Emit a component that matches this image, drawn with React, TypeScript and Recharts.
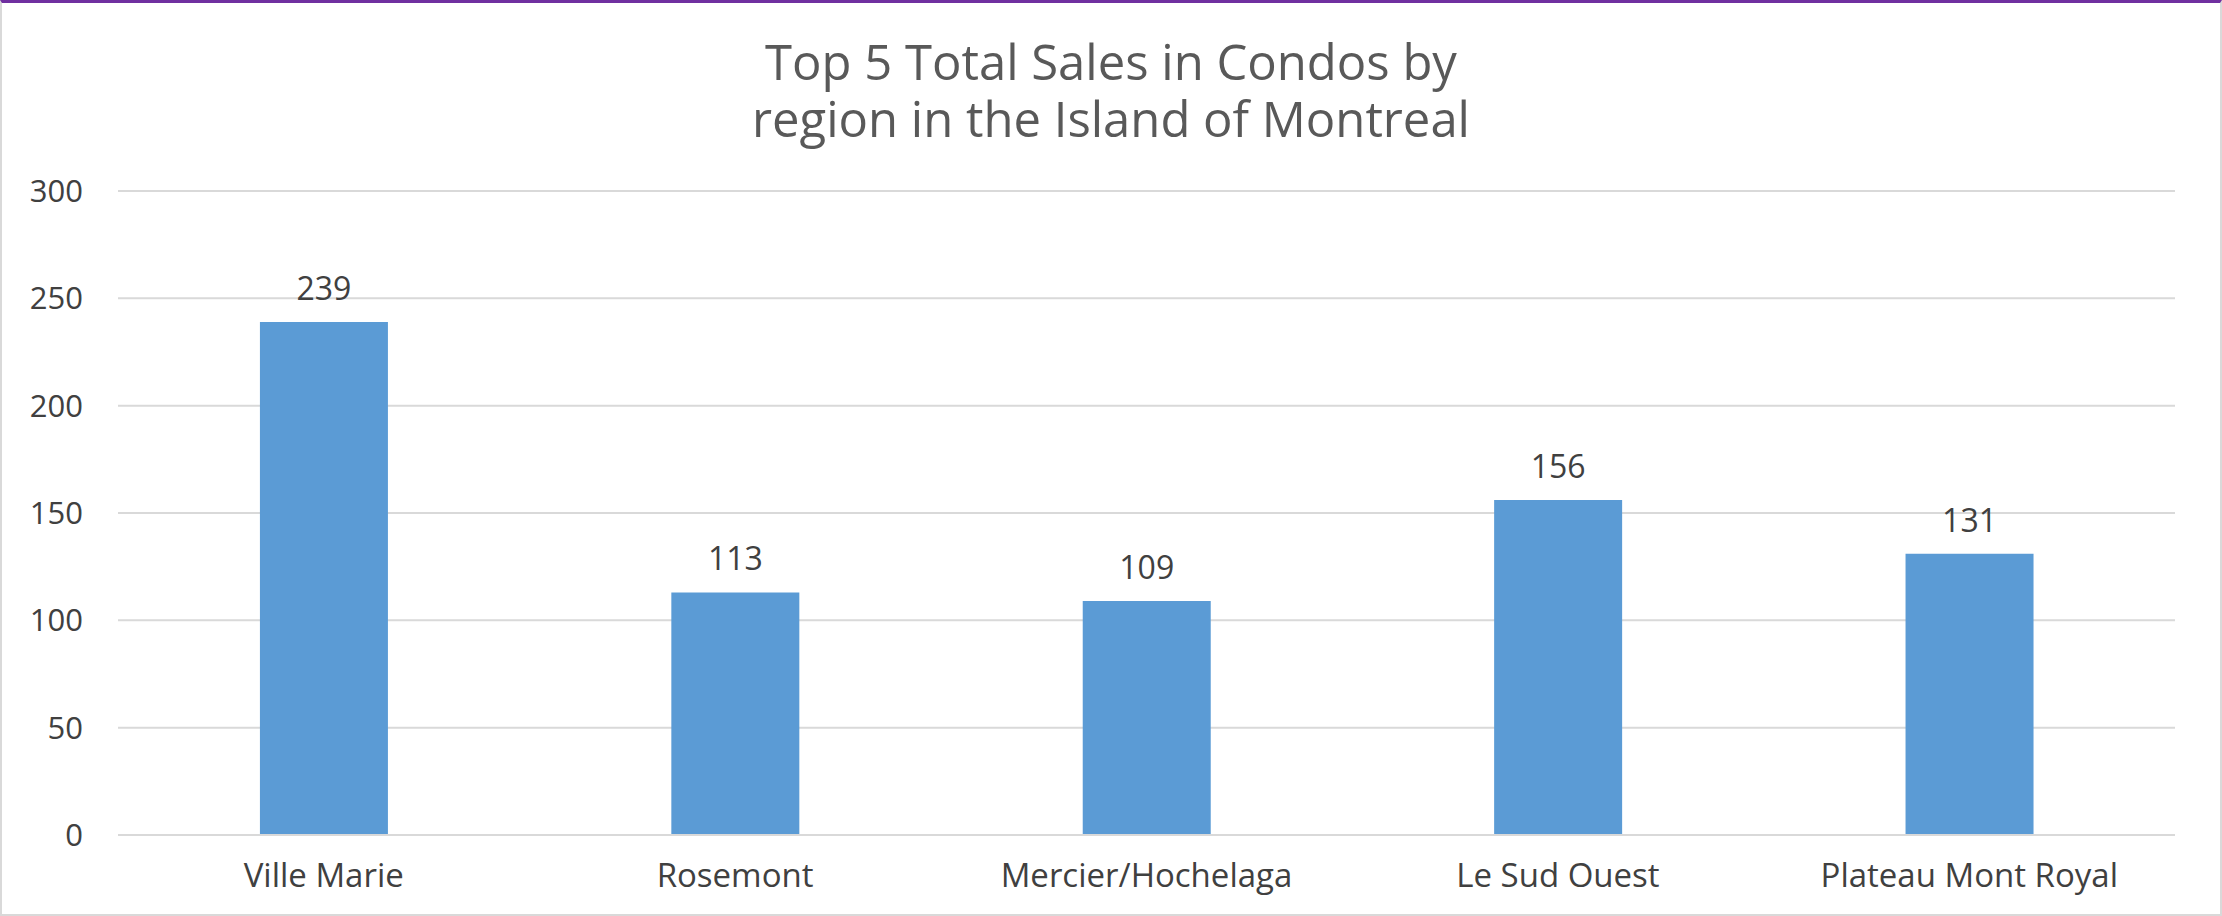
import { BarChart, Bar, XAxis, YAxis, CartesianGrid, LabelList } from 'recharts';

const regions = ['Ville Marie', 'Rosemont', 'Mercier/Hochelaga', 'Le Sud Ouest', 'Plateau Mont Royal'];
const totalSales = [239, 113, 109, 156, 131];
const yTicks = [0, 50, 100, 150, 200, 250, 300];
const titleLines = ['Top 5 Total Sales in Condos by', 'region in the Island of Montreal'];

const data = regions.map((region, i) => ({ region, sales: totalSales[i] }));

const FONT = '"Open Sans", "Noto Sans", sans-serif';

export default function App() {
  return (
    <div style={{ position: 'relative', width: 2222, height: 916, background: '#fff', fontFamily: FONT }}>
      <style>{'body{margin:0}'}</style>
      <BarChart
        width={2222}
        height={916}
        data={data}
        margin={{ top: 191, right: 47, bottom: 0, left: 0 }}
        barCategoryGap="34.5%"
        style={{ position: 'absolute', left: 0, top: 0 }}
      >
        <CartesianGrid vertical={false} stroke="#d9d9d9" strokeWidth={2} />
        <XAxis
          dataKey="region"
          height={81}
          axisLine={{ stroke: '#d9d9d9', strokeWidth: 2 }}
          tickLine={false}
          tickSize={0}
          tickMargin={29}
          tick={{ fill: '#404040', fontSize: 33, fontFamily: FONT }}
        />
        <YAxis
          width={118}
          domain={[0, 300]}
          ticks={yTicks}
          axisLine={false}
          tickLine={false}
          tickSize={0}
          tickMargin={35}
          tick={{ fill: '#404040', fontSize: 31, fontFamily: FONT }}
        />
        <Bar dataKey="sales" fill="#5b9bd5" isAnimationActive={false}>
          <LabelList
            dataKey="sales"
            position="top"
            offset={22}
            fill="#404040"
            fontSize={32}
            fontFamily={FONT}
          />
        </Bar>
      </BarChart>
      <div
        style={{
          position: 'absolute',
          left: 0,
          top: 33,
          width: 2222,
          textAlign: 'center',
          color: '#595959',
          fontSize: 49,
          lineHeight: '57px',
          whiteSpace: 'pre-line',
        }}
      >
        {titleLines.join('\n')}
      </div>
      <div
        style={{
          position: 'absolute',
          left: 0,
          top: 0,
          width: 2222,
          height: 916,
          boxSizing: 'border-box',
          borderTop: '3px solid #7030a0',
          borderLeft: '2px solid #d9d9d9',
          borderRight: '2px solid #d9d9d9',
          borderBottom: '2px solid #d9d9d9',
          pointerEvents: 'none',
        }}
      />
    </div>
  );
}
